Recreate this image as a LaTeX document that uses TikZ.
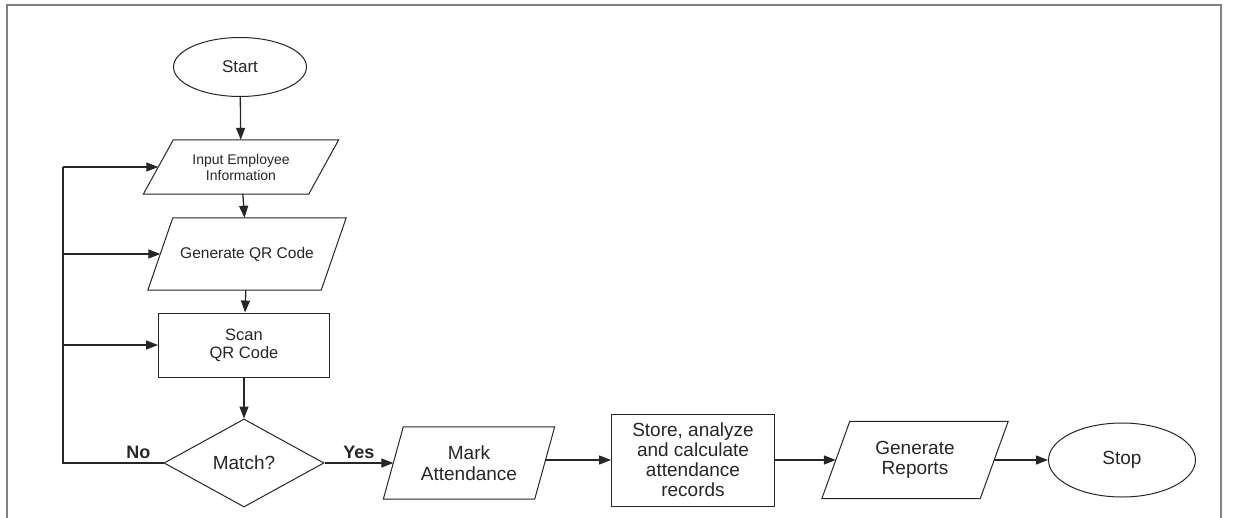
\documentclass[tikz,border=0pt]{standalone}
\usepackage{fontspec}
\setmainfont{Liberation Sans}
\usetikzlibrary{positioning}
\usetikzlibrary{arrows.meta}
\usetikzlibrary{shapes.geometric}
\tikzset{>={Triangle[width=9pt,length=12pt]}}
\tikzset{
    term/.style={draw, ellipse, line width=1pt, inner sep=0pt},
    inout/.style={rectangle, inner sep=0pt, align=center,
        append after command={\pgfextra{\draw [line width=1pt]
            ([xshift=#1]\tikzlastnode.north west) -- ([xshift=#1]\tikzlastnode.north east)
            -- ([xshift=-#1]\tikzlastnode.south east) -- ([xshift=-#1]\tikzlastnode.south west) -- cycle;}}},
    proc/.style={draw, rectangle, inner sep=0pt, align=center, line width=1pt},
    decide/.style={draw, diamond, inner sep=0pt, line width=1pt},
    flow/.style={draw, line width=1.3pt},
    lbl/.style={font=\fontsize{18}{20}\selectfont\bfseries}
}

\begin{document}
\begin{tikzpicture}[x=1pt, y=-1pt, color=black!85]
    \useasboundingbox (0,0) rectangle (1234,517);
    \draw [black!50, line width=2pt] (7,540) -- (7,5) -- (1221,5) -- (1221,540);

    \node (start) at (240,67) [term, minimum width=133pt, minimum height=59pt, font=\fontsize{17}{19}\selectfont] {Start};
    \node (input) at (241,167) [inout=15pt, minimum width=165pt, minimum height=54pt, font=\fontsize{14}{16}\selectfont] {Input Employee\\Information};
    \node (genqr) at (247,254) [inout=12.5pt, minimum width=173pt, minimum height=72pt, font=\fontsize{15.5}{17}\selectfont] {Generate QR Code};
    \node (scan) at (244,345) [proc, minimum width=171pt, minimum height=64pt, font=\fontsize{16.5}{18}\selectfont] {Scan\\QR Code};
    \node (match) at (244,463) [decide, minimum width=160pt, minimum height=88pt, font=\fontsize{19}{21}\selectfont] {Match?};
    \node (mark) at (469,463) [inout=10pt, minimum width=151pt, minimum height=72pt, font=\fontsize{19}{20.5}\selectfont] {Mark\\Attendance};
    \node (store) at (693,460) [proc, minimum width=163pt, minimum height=92pt, font=\fontsize{19}{20}\selectfont] {Store, analyze\\and calculate\\attendance\\records};
    \node (reports) at (915,460) [inout=14pt, minimum width=158pt, minimum height=77pt, font=\fontsize{19}{20.5}\selectfont] {Generate\\Reports};
    \node (stop) at (1122,460) [term, minimum width=147pt, minimum height=74pt, font=\fontsize{19}{21}\selectfont] {Stop};

    \coordinate (lpbot) at (63,463);
    \coordinate (lpin) at (63,167);
    \coordinate (lpqr) at (63,254);
    \coordinate (lpscan) at (63,345);

    \path [flow, ->] (start) -- (input);
    \path [flow, ->] (input) -- (genqr);
    \path [flow, ->] (genqr) -- (scan);
    \path [flow, ->] (scan) -- (match);
    \path [flow] (match.west) -- node [lbl, above, pos=0.25] {No} (lpbot) -- (lpin);
    \path [flow, ->] (lpin) -- (input);
    \path [flow, ->] (lpqr) -- (genqr);
    \path [flow, ->] (lpscan) -- (scan);
    \path [flow, ->] (match.east) -- node [lbl, above] {Yes} (mark.west);
    \path [flow, ->] (mark.east |- store.west) -- (store.west);
    \path [flow, ->] (store.east) -- (reports.west);
    \path [flow, ->] (reports.east) -- (stop.west);
\end{tikzpicture}
\end{document}
